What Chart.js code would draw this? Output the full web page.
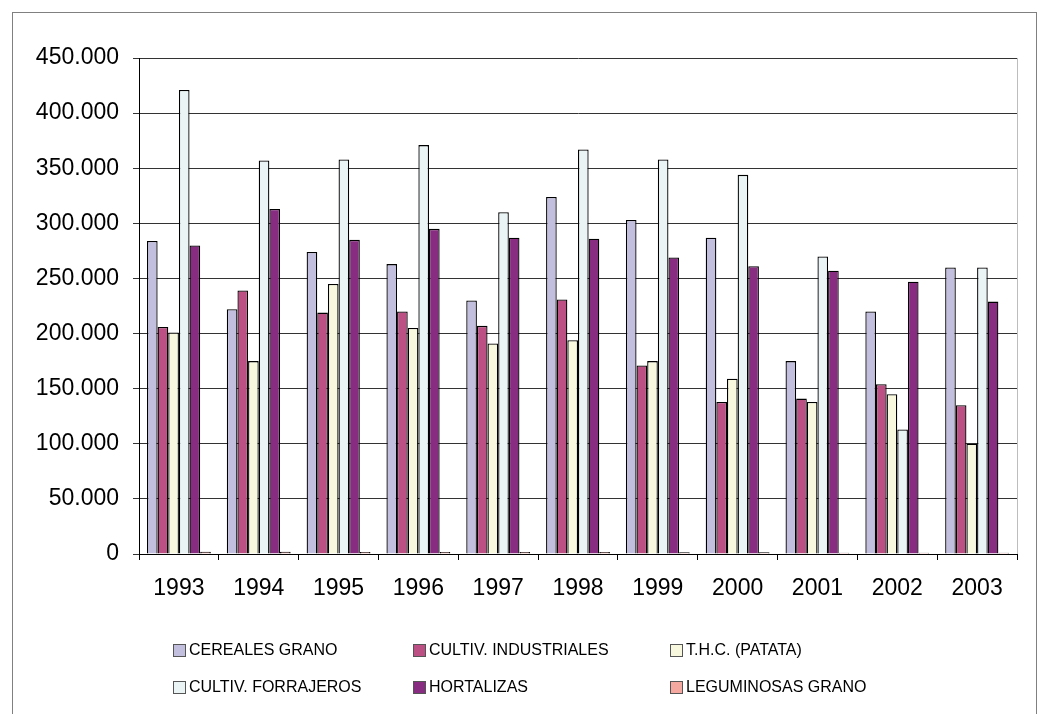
<!DOCTYPE html>
<html>
<head>
<meta charset="utf-8">
<script src="https://cdn.jsdelivr.net/npm/chart.js@4/dist/chart.umd.min.js"></script>
<style>
  html, body { margin: 0; padding: 0; background: #fff; }
  #wrap { width: 1045px; height: 714px; position: relative; }
</style>
</head>
<body>
<div id="wrap"><canvas id="c" width="1045" height="714"></canvas></div>
<script>
const years = ['1993','1994','1995','1996','1997','1998','1999','2000','2001','2002','2003'];
const cereales     = [284000, 222000, 274000, 263000, 230000, 324000, 303000, 287000, 175000, 220000, 260000];
const industriales = [206000, 239000, 219000, 220000, 207000, 231000, 171000, 138000, 141000, 154000, 135000];
const patata       = [201000, 175000, 245000, 205000, 191000, 194000, 175000, 159000, 138000, 145000, 100000];
const forrajeros   = [421000, 357000, 358000, 371000, 310000, 367000, 358000, 344000, 270000, 113000, 260000];
const hortalizas   = [280000, 313000, 285000, 295000, 287000, 286000, 269000, 261000, 257000, 247000, 229000];
const leguminosas  = [2000, 2000, 1800, 1800, 1800, 1800, 1500, 1500, 1200, 1200, 1200];
const seriesNames  = ['CEREALES GRANO', 'CULTIV. INDUSTRIALES', 'T.H.C. (PATATA)', 'CULTIV. FORRAJEROS', 'HORTALIZAS', 'LEGUMINOSAS GRANO'];
const yTickMax = 450000;
const yTickStep = 50000;

const colors = ['#C2BEDE', '#BC5085', '#F8F8DE', '#EAF4F5', '#872C81', '#F4A8A0'];
const seriesData = [cereales, industriales, patata, forrajeros, hortalizas, leguminosas];

const FONT = "'Liberation Sans', Arial, sans-serif";

function fmt(v) {
  if (v === 0) return '0';
  return String(v).replace(/\B(?=(\d{3})+(?!\d))/g, '.');
}

const framePlugin = {
  id: 'frame',
  beforeDraw(chart) {
    const ctx = chart.ctx;
    ctx.save();
    ctx.fillStyle = '#fff';
    ctx.fillRect(0, 0, chart.width, chart.height);
    ctx.strokeStyle = '#808080';
    ctx.lineWidth = 1;
    ctx.strokeRect(12.5, 12.5, chart.width - 21, chart.height + 20);
    ctx.restore();
  },
  afterDatasetsDraw(chart) {
    const ctx = chart.ctx;
    const a = chart.chartArea;
    ctx.save();
    ctx.strokeStyle = '#bdbdbd';
    ctx.lineWidth = 1;
    ctx.beginPath();
    ctx.moveTo(Math.round(a.right) + 0.5, a.top);
    ctx.lineTo(Math.round(a.right) + 0.5, a.bottom);
    ctx.stroke();
    ctx.restore();
  }
};

const legendPlugin = {
  id: 'gridLegend',
  afterDraw(chart) {
    const ctx = chart.ctx;
    const colX = [173, 413, 670];
    const rowY = [651, 688];
    ctx.save();
    ctx.font = '16px ' + FONT;
    ctx.textBaseline = 'middle';
    ctx.textAlign = 'left';
    chart.data.datasets.forEach((ds, i) => {
      const x = colX[i % 3];
      const y = rowY[Math.floor(i / 3)];
      ctx.fillStyle = ds.backgroundColor;
      ctx.fillRect(x, y - 7, 13, 13);
      ctx.strokeStyle = '#555';
      ctx.lineWidth = 1;
      ctx.strokeRect(x + 0.5, y - 6.5, 12, 12);
      ctx.fillStyle = '#000';
      ctx.fillText(ds.label, x + 16, y);
    });
    ctx.restore();
  }
};

new Chart(document.getElementById('c'), {
  type: 'bar',
  data: {
    labels: years,
    datasets: seriesData.map((d, i) => ({
      label: seriesNames[i],
      data: d,
      backgroundColor: colors[i],
      borderColor: '#000',
      borderWidth: 1.3,
      categoryPercentage: 0.8,
      barPercentage: 1.0
    }))
  },
  options: {
    responsive: false,
    animation: false,
    devicePixelRatio: 1,
    layout: { padding: { left: 12, right: 28, top: 58, bottom: 100 } },
    plugins: {
      legend: { display: false },
      tooltip: { enabled: false }
    },
    scales: {
      x: {
        offset: true,
        grid: { display: true, drawOnChartArea: false, drawTicks: true, tickLength: 6, color: '#000', offset: true },
        border: { color: '#000', width: 1 },
        ticks: { color: '#000', font: { family: FONT, size: 23 }, padding: 15, maxRotation: 0 },
        afterFit(scale) { scale.height = 60; }
      },
      y: {
        min: 0,
        max: yTickMax,
        grid: { color: '#333', lineWidth: 1, tickLength: 6, drawTicks: true },
        border: { color: '#000', width: 1 },
        ticks: { stepSize: yTickStep, color: '#000', font: { family: FONT, size: 23 }, padding: 14, callback: (v) => fmt(v) },
        afterFit(scale) { scale.width = 127; }
      }
    }
  },
  plugins: [framePlugin, legendPlugin]
});
</script>
</body>
</html>
